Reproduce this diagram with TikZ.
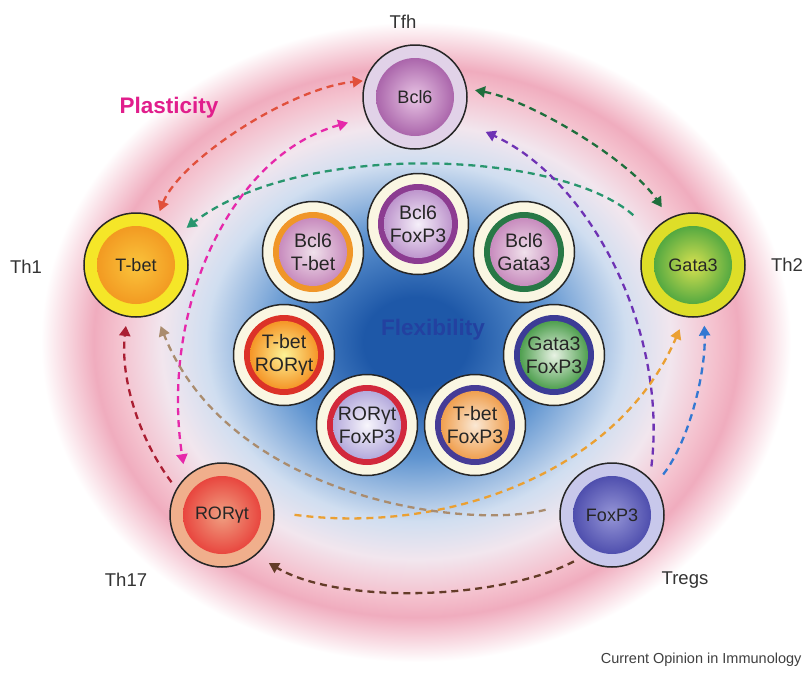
\documentclass[tikz,border=0pt]{standalone}
\usepackage{fontspec}
\setmainfont{Liberation Sans}
\usetikzlibrary{arrows.meta}

\definecolor{flexdark}{RGB}{30,88,168}
\definecolor{flexmid}{RGB}{95,148,208}
\definecolor{flexlight}{RGB}{208,222,240}
\definecolor{mistpink}{RGB}{242,230,238}
\definecolor{glowpink}{RGB}{244,192,205}
\definecolor{glowdeep}{RGB}{240,172,190}
\definecolor{cream}{RGB}{250,246,226}
\definecolor{plastmag}{RGB}{225,30,140}
\definecolor{flexblue}{RGB}{35,65,160}
% cell colours
\definecolor{bclband}{RGB}{225,210,232}
\definecolor{bclcore}{RGB}{232,196,228}
\definecolor{bclrim}{RGB}{150,70,152}
\definecolor{tbetband}{RGB}{245,230,40}
\definecolor{tbetcore}{RGB}{250,196,60}
\definecolor{tbetrim}{RGB}{240,140,25}
\definecolor{gataband}{RGB}{222,222,40}
\definecolor{gatacore}{RGB}{215,225,80}
\definecolor{gatarim}{RGB}{40,150,60}
\definecolor{rorband}{RGB}{240,175,140}
\definecolor{rorcore}{RGB}{240,160,130}
\definecolor{rorrim}{RGB}{230,40,40}
\definecolor{foxband}{RGB}{200,200,235}
\definecolor{foxcore}{RGB}{150,150,215}
\definecolor{foxrim}{RGB}{55,55,160}
% pair colours
\definecolor{ringpurple}{RGB}{140,60,145}
\definecolor{ringorange}{RGB}{240,150,40}
\definecolor{ringgreen}{RGB}{40,120,70}
\definecolor{ringred}{RGB}{220,50,40}
\definecolor{ringblue}{RGB}{60,60,150}
\definecolor{ringcrimson}{RGB}{210,40,60}
\definecolor{ringviolet}{RGB}{70,60,150}
\definecolor{midlav}{RGB}{246,240,250}
\definecolor{edgelav}{RGB}{190,150,205}
\definecolor{midpink}{RGB}{240,225,235}
\definecolor{edgepink}{RGB}{200,140,190}
\definecolor{midyellow}{RGB}{252,242,150}
\definecolor{edgeorange}{RGB}{245,150,40}
\definecolor{midmint}{RGB}{232,242,228}
\definecolor{edgegreen}{RGB}{80,160,80}
\definecolor{midwhite}{RGB}{248,246,252}
\definecolor{edgeblue}{RGB}{180,170,220}
\definecolor{midpeach}{RGB}{250,232,212}
\definecolor{edgepeach}{RGB}{240,160,80}
% arrow colours
\definecolor{arrred}{RGB}{225,80,60}
\definecolor{arrmag}{RGB}{230,40,170}
\definecolor{arrgreen}{RGB}{30,110,60}
\definecolor{arrteal}{RGB}{40,150,110}
\definecolor{arrpurple}{RGB}{110,50,180}
\definecolor{arrblue}{RGB}{50,120,210}
\definecolor{arrorange}{RGB}{235,160,50}
\definecolor{arrtan}{RGB}{170,140,110}
\definecolor{arrdarkred}{RGB}{170,30,50}
\definecolor{arrbrown}{RGB}{100,60,40}

\pgfdeclareradialshading{plasticity}{\pgfpoint{0bp}{0bp}}{color(0bp)=(flexdark); color(3.5bp)=(flexdark); color(9bp)=(flexmid); color(14bp)=(flexlight); color(17bp)=(mistpink); color(20bp)=(glowpink); color(21.5bp)=(glowdeep); color(25bp)=(white); color(50bp)=(white)}

\begin{document}
\begin{tikzpicture}[x=1pt,y=-1pt,>={Triangle[length=10pt,width=11pt]},
    cell/.style n args={3}{circle, draw=black!85, line width=1.5pt, minimum size=104pt, inner sep=0pt, fill=#1,
      font=\fontsize{18}{20}\selectfont, text=black!85,
      path picture={\shade[inner color=#2, outer color=#3] (path picture bounding box.center) circle (39pt);}},
    pair/.style n args={3}{circle, draw=black!85, line width=1.5pt, minimum size=101pt, inner sep=0pt, fill=cream,
      align=center, font=\fontsize{19.5}{23}\selectfont, text=black!85,
      path picture={\fill[#1] (path picture bounding box.center) circle (40pt);
        \shade[inner color=#2, outer color=#3] (path picture bounding box.center) circle (34pt);}},
    lineage/.style={font=\fontsize{18.5}{20}\selectfont, text=black!80},
    flow/.style={draw=#1, line width=2.3pt, dash pattern=on 7pt off 5pt}]
    \useasboundingbox (0,0) rectangle (806,675);
    \fill[white] (0,0) rectangle (806,675);
    \shade[shading=plasticity] (416,342) ellipse (375 and 320);

    \node[cell={bclband}{bclcore}{bclrim}] (bcl) at (415,97) {Bcl6};
    \node[cell={tbetband}{tbetcore}{tbetrim}] (tbet) at (136,265) {T-bet};
    \node[cell={gataband}{gatacore}{gatarim}] (gata) at (693,265) {Gata3};
    \node[cell={rorband}{rorcore}{rorrim}] (ror) at (222,515) {RORγt};
    \node[cell={foxband}{foxcore}{foxrim}] (foxp) at (612,515) {FoxP3};

    \node[pair={ringpurple}{midlav}{edgelav}] (bclfox) at (418,224) {Bcl6\\FoxP3};
    \node[pair={ringorange}{midpink}{edgepink}] (bcltbet) at (313,252) {Bcl6\\T-bet};
    \node[pair={ringgreen}{midpink}{edgepink}] (bclgata) at (524,252) {Bcl6\\Gata3};
    \node[pair={ringred}{midyellow}{edgeorange}] (tbetror) at (284,355) {T-bet\\RORγt};
    \node[pair={ringblue}{midmint}{edgegreen}] (gatafox) at (554,355) {Gata3\\FoxP3};
    \node[pair={ringcrimson}{midwhite}{edgeblue}] (rorfox) at (367,425) {RORγt\\FoxP3};
    \node[pair={ringviolet}{midpeach}{edgepeach}] (tbetfox) at (475,425) {T-bet\\FoxP3};

    \node[lineage] (tfh) at (403,22) {Tfh};
    \node[lineage] (th1) at (26,267) {Th1};
    \node[lineage] (th2) at (787,265) {Th2};
    \node[lineage] (th17) at (126,580) {Th17};
    \node[lineage] (tregs) at (685,580) {Tregs};
    \node[font=\fontsize{22.5}{24}\selectfont\bfseries, text=plastmag] (plast) at (169,108) {Plasticity};
    \node[font=\fontsize{22.5}{24}\selectfont\bfseries, text=flexblue] (flex) at (433,330) {Flexibility};
    \node[anchor=east, font=\fontsize{14.5}{16}\selectfont, text=black!75] (credit) at (805,660) {Current Opinion in Immunology};

    \draw[flow=arrred, <->, shorten <=6pt, shorten >=2pt] (tbet.66) .. controls (180,160) and (290,88) .. (bcl.162);
    \draw[flow=arrmag, <->, shorten <=19pt, shorten >=13pt] (bcl.203) .. controls (230,155) and (160,310) .. (ror.134);
    \draw[flow=arrgreen, <->, shorten <=8pt, shorten >=13pt] (bcl.9) .. controls (530,100) and (630,160) .. (gata.117);
    \draw[flow=arrteal, ->, shorten <=25pt, shorten >=10pt] (gata.141) .. controls (560,150) and (300,140) .. (tbet.36);
    \draw[flow=arrpurple, ->, shorten <=12pt, shorten >=26pt] (foxp.44) .. controls (668,330) and (590,180) .. (bcl.333);
    \draw[flow=arrblue, ->, shorten <=13pt, shorten >=9pt] (foxp.35) .. controls (690,440) and (706,370) .. (gata.282);
    \draw[flow=arrorange, ->, shorten <=20pt, shorten >=13pt] (ror.3) .. controls (450,535) and (620,470) .. (gata.261);
    \draw[flow=arrtan, ->, shorten <=15pt, shorten >=13pt] (foxp.170) .. controls (470,530) and (230,500) .. (tbet.292);
    \draw[flow=arrdarkred, ->, shorten <=8pt, shorten >=9pt] (ror.150) .. controls (140,440) and (120,380) .. (tbet.260);
    \draw[flow=arrbrown, ->, shorten <=8pt, shorten >=15pt] (foxp.234) .. controls (500,600) and (340,605) .. (ror.310);
\end{tikzpicture}
\end{document}
